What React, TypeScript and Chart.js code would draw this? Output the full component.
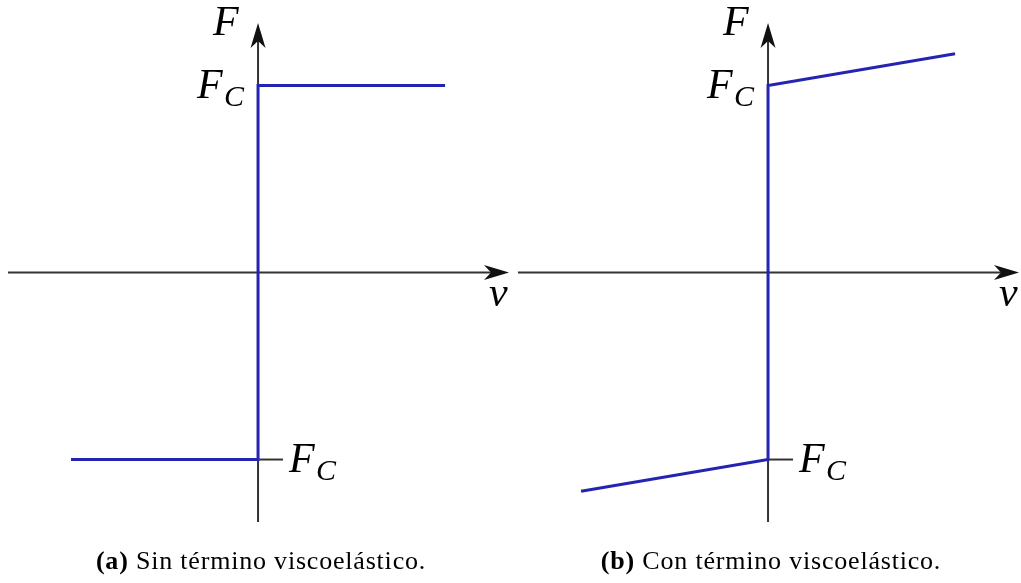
import React, { useEffect, useRef } from "react";
import { Chart, registerables } from "chart.js";

Chart.register(...registerables);

// Friction law samples: velocity v against force F (units of the Coulomb force F_C)
const velocity = [-1, 0, 0, 1];
const forceCoulomb = [-1, -1, 1, 1];
const forceViscous = [-1.17, -1, 1, 1.17];
const coulombLevel = 1;

// Visible axis extents
const vRange = [-1.337, 1.342];
const fRange = [-1.334, 1.334];

const captionTags = ["(a)", "(b)"];
const captionTexts = ["Sin término viscoelástico.", "Con término viscoelástico."];

const LINE_BLUE = "#2424b2";
const AXIS_GREY = "#333333";
const MATH_FONT = '"Liberation Serif", "DejaVu Serif", serif';

const PANEL_W = 510;
const PANEL_H = 583;

function drawArrowHead(ctx: CanvasRenderingContext2D, tx: number, ty: number, dx: number, dy: number) {
  const L = 25;
  const W = 7.5;
  const N = 7;
  const nx = -dy;
  const ny = dx;
  ctx.beginPath();
  ctx.moveTo(tx, ty);
  ctx.lineTo(tx - L * dx + W * nx, ty - L * dy + W * ny);
  ctx.lineTo(tx - (L - N) * dx, ty - (L - N) * dy);
  ctx.lineTo(tx - L * dx - W * nx, ty - L * dy - W * ny);
  ctx.closePath();
  ctx.fill();
}

function drawFc(ctx: CanvasRenderingContext2D, x: number, baseline: number) {
  ctx.font = `italic 42px ${MATH_FONT}`;
  ctx.fillText("F", x, baseline);
  ctx.font = `italic 30px ${MATH_FONT}`;
  ctx.fillText("C", x + 27, baseline + 8);
}

const axesPlugin = {
  id: "frictionAxes",
  beforeDatasetsDraw(chart: any) {
    const { ctx, chartArea, scales } = chart;
    const x0 = scales.x.getPixelForValue(0);
    const y0 = scales.y.getPixelForValue(0);
    const yLow = scales.y.getPixelForValue(-coulombLevel);
    ctx.save();
    ctx.strokeStyle = AXIS_GREY;
    ctx.fillStyle = "#111";
    ctx.lineWidth = 2;
    // horizontal v axis
    ctx.beginPath();
    ctx.moveTo(chartArea.left, y0);
    ctx.lineTo(chartArea.right - 16, y0);
    ctx.stroke();
    drawArrowHead(ctx, chartArea.right, y0, 1, 0);
    // vertical F axis
    ctx.beginPath();
    ctx.moveTo(x0, chartArea.bottom);
    ctx.lineTo(x0, chartArea.top + 16);
    ctx.stroke();
    drawArrowHead(ctx, x0, chartArea.top, 0, -1);
    // tick at -F_C
    ctx.beginPath();
    ctx.moveTo(x0, yLow);
    ctx.lineTo(x0 + 25, yLow);
    ctx.stroke();
    ctx.restore();
  },
  afterDraw(chart: any) {
    const { ctx, chartArea, scales } = chart;
    const x0 = scales.x.getPixelForValue(0);
    const y0 = scales.y.getPixelForValue(0);
    const yHigh = scales.y.getPixelForValue(coulombLevel);
    const yLow = scales.y.getPixelForValue(-coulombLevel);
    ctx.save();
    ctx.fillStyle = "#000";
    ctx.textBaseline = "alphabetic";
    ctx.textAlign = "left";
    ctx.font = `italic 42px ${MATH_FONT}`;
    ctx.fillText("F", x0 - 45, chartArea.top + 12);
    ctx.fillText("v", chartArea.right - 20, y0 + 33);
    drawFc(ctx, x0 - 61, yHigh + 13);
    drawFc(ctx, x0 + 31, yLow + 12);
    ctx.restore();
  },
};

function FrictionPanel({ forces, left, tag, text }: { forces: number[]; left: number; tag: string; text: string }) {
  const ref = useRef<HTMLCanvasElement>(null);

  useEffect(() => {
    if (!ref.current) return;
    const chart = new Chart(ref.current, {
      type: "scatter",
      data: {
        datasets: [
          {
            data: velocity.map((v, i) => ({ x: v, y: forces[i] })),
            showLine: true,
            borderColor: LINE_BLUE,
            backgroundColor: LINE_BLUE,
            borderWidth: 3,
            pointRadius: 0,
            tension: 0,
            clip: false as any,
          },
        ],
      },
      options: {
        responsive: false,
        maintainAspectRatio: false,
        animation: false,
        layout: { padding: { left: 8, right: 1, top: 23, bottom: PANEL_H - 522 } },
        plugins: { legend: { display: false }, tooltip: { enabled: false }, title: { display: false } },
        events: [],
        scales: {
          x: { type: "linear", display: false, min: vRange[0], max: vRange[1] },
          y: { type: "linear", display: false, min: fRange[0], max: fRange[1] },
        },
      },
      plugins: [axesPlugin],
    });
    return () => chart.destroy();
  }, [forces]);

  return (
    <>
      <canvas
        ref={ref}
        width={PANEL_W}
        height={PANEL_H}
        style={{ position: "absolute", left, top: 0, width: PANEL_W, height: PANEL_H }}
      />
      <div
        style={{
          position: "absolute",
          left: left + 261 - 220,
          width: 440,
          top: 546,
          textAlign: "center",
          fontFamily: MATH_FONT,
          fontSize: 26,
          lineHeight: "30px",
          letterSpacing: "0.8px",
          color: "#000",
          whiteSpace: "nowrap",
        }}
      >
        <b>{tag}</b> {text}
      </div>
    </>
  );
}

export default function App() {
  return (
    <div style={{ position: "fixed", left: 0, top: 0, width: 1021, height: 583, background: "#fff", overflow: "hidden" }}>
      <FrictionPanel forces={forceCoulomb} left={0} tag={captionTags[0]} text={captionTexts[0]} />
      <FrictionPanel forces={forceViscous} left={510} tag={captionTags[1]} text={captionTexts[1]} />
    </div>
  );
}
